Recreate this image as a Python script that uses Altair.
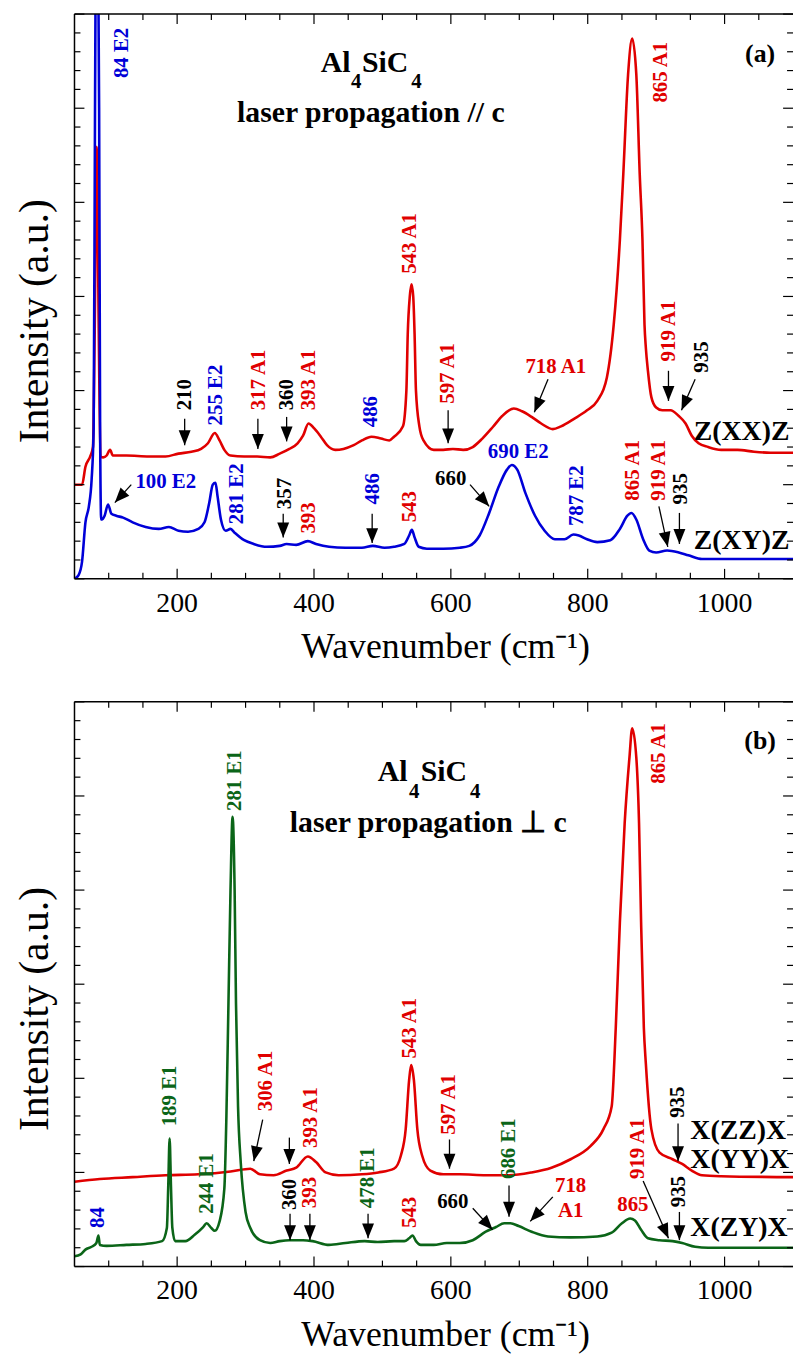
import math
import altair as alt
import pandas as pd

# ------------------------------------------------------------------ data
a_red_wn = [50, 61, 66, 73, 77, 79.5, 82.5, 85.5, 88, 92, 97, 102, 106, 126, 159, 183, 202, 221, 235, 245,
            255, 262, 269, 278, 298, 317, 336, 350, 364, 376, 384, 392, 400, 410, 419, 431, 443, 458, 470,
            484, 498, 510, 517, 530, 535, 537, 540, 542.5, 545, 547, 549, 554, 560, 575, 589, 603, 618,
            632, 646, 661, 675, 692, 704, 718, 732, 749, 761, 780, 799, 814, 828, 838, 847, 852, 859, 865,
            871, 876, 880, 883, 885, 888, 893, 900, 909, 921, 933, 943, 952, 962, 976, 995, 1019, 1043,
            1067, 1100]
a_red_v = [1.00, 1.00, 1.19, 1.30, 1.40, 2.6, 4.59, 2.6, 1.30, 1.29, 1.31, 1.37, 1.31, 1.31, 1.30, 1.30,
           1.33, 1.35, 1.38, 1.44, 1.55, 1.47, 1.37, 1.31, 1.30, 1.30, 1.29, 1.33, 1.38, 1.44, 1.52, 1.65,
           1.60, 1.51, 1.42, 1.37, 1.38, 1.42, 1.47, 1.51, 1.49, 1.47, 1.51, 1.62, 2.0, 2.6, 3.0, 3.13,
           3.0, 2.6, 2.0, 1.62, 1.47, 1.37, 1.37, 1.38, 1.37, 1.40, 1.49, 1.61, 1.73, 1.81, 1.78, 1.72,
           1.65, 1.59, 1.62, 1.70, 1.79, 1.89, 2.14, 2.70, 3.6, 4.30, 5.36, 5.74, 5.36, 4.30, 3.6, 2.70,
           2.45, 2.21, 1.93, 1.82, 1.79, 1.79, 1.73, 1.65, 1.52, 1.44, 1.40, 1.37, 1.37, 1.35, 1.34, 1.34]

a_blue_wn = [50, 56, 61, 66, 71, 75, 78, 80, 83, 86, 87.5, 89, 90, 94, 99, 104, 111, 121, 135, 154, 173,
             188, 202, 216, 231, 240, 247, 252, 256, 259, 264, 271, 278, 284, 298, 312, 331, 350, 360, 374,
             391, 403, 422, 446, 470, 486, 503, 517, 532, 539, 543, 547, 553, 565, 589, 613, 627, 642, 656,
             670, 682, 689, 697, 709, 723, 737, 752, 766, 779, 787, 799, 814, 833, 847, 858, 864, 871, 881,
             890, 900, 916, 933, 947, 967, 995, 1043, 1100]
a_blue_v = [0.0, 0.04, 0.18, 0.60, 0.77, 1.05, 1.6, 5.0, 8.5, 5.0, 1.5, 0.63, 0.63, 0.67, 0.79, 0.69, 0.67,
            0.65, 0.60, 0.55, 0.53, 0.55, 0.51, 0.50, 0.53, 0.60, 0.81, 1.00, 1.02, 0.88, 0.63, 0.51, 0.53,
            0.49, 0.41, 0.37, 0.34, 0.35, 0.37, 0.36, 0.40, 0.37, 0.34, 0.33, 0.33, 0.35, 0.33, 0.34, 0.37,
            0.46, 0.52, 0.44, 0.34, 0.32, 0.32, 0.33, 0.35, 0.46, 0.70, 0.98, 1.16, 1.21, 1.16, 0.91, 0.67,
            0.51, 0.42, 0.42, 0.47, 0.46, 0.42, 0.39, 0.41, 0.53, 0.67, 0.70, 0.63, 0.42, 0.30, 0.28, 0.30,
            0.28, 0.25, 0.21, 0.21, 0.21, 0.21]

b_red_wn = [50, 87, 135, 183, 231, 278, 307, 321, 341, 360, 374, 391, 403, 417, 436, 470, 494, 517, 527,
            534, 539, 542, 546, 551, 558, 570, 589, 613, 651, 685, 718, 747, 775, 804, 823, 835, 841, 847,
            854, 861, 865, 871, 875, 878, 882, 885, 893, 905, 924, 938, 952, 967, 995, 1100]
b_red_v = [0.90, 0.93, 0.95, 0.97, 0.98, 1.01, 1.04, 0.98, 0.97, 1.02, 1.05, 1.17, 1.11, 1.00, 0.97, 0.98,
           1.00, 1.04, 1.18, 1.46, 1.98, 2.14, 1.98, 1.46, 1.18, 1.02, 0.98, 0.98, 0.97, 0.97, 1.00, 1.05,
           1.14, 1.28, 1.46, 1.70, 2.54, 3.66, 4.71, 5.41, 5.72, 5.41, 4.71, 3.66, 2.54, 2.15, 1.46, 1.21,
           1.14, 1.09, 1.02, 0.97, 0.96, 0.95]

b_green_wn = [50, 59, 66, 75, 82, 85, 87, 97, 126, 154, 178, 185, 187, 189, 191, 193, 197, 212, 226, 238,
              243, 250, 255, 262, 269, 272, 275, 278, 281, 284, 286, 289, 293, 300, 307, 321, 336, 350, 364,
              384, 398, 422, 446, 474, 493, 517, 532, 539, 544, 549, 556, 575, 594, 613, 632, 651, 666, 678,
              687, 699, 718, 742, 775, 814, 835, 850, 862, 869, 878, 888, 905, 924, 938, 957, 976, 1019, 1100]
b_green_v = [0.11, 0.13, 0.18, 0.21, 0.25, 0.33, 0.23, 0.22, 0.23, 0.24, 0.27, 0.41, 0.85, 1.36, 0.85, 0.41,
             0.27, 0.27, 0.34, 0.42, 0.46, 0.41, 0.38, 0.48, 0.83, 1.6, 2.8, 4.0, 4.78, 4.0, 2.8, 1.7, 1.1,
             0.58, 0.41, 0.28, 0.25, 0.27, 0.28, 0.28, 0.27, 0.23, 0.25, 0.27, 0.26, 0.27, 0.27, 0.30, 0.33,
             0.27, 0.23, 0.23, 0.25, 0.25, 0.28, 0.37, 0.42, 0.46, 0.46, 0.43, 0.37, 0.32, 0.31, 0.32, 0.36,
             0.46, 0.51, 0.49, 0.39, 0.30, 0.28, 0.27, 0.25, 0.21, 0.20, 0.20, 0.20]

# annotation labels: (text, wavenumber, intensity, colour key, font size, kind)
a_labels = [
    ("84 E2", 119, 5.32, "blue", 21, "v"), ("210", 211, 1.79, "black", 21, "v"),
    ("255 E2", 257, 1.63, "blue", 21, "v"), ("317 A1", 320, 1.79, "red", 21, "v"),
    ("360", 360, 1.79, "black", 21, "v"), ("393 A1", 393, 1.79, "red", 21, "v"),
    ("486", 484, 1.61, "blue", 21, "v"), ("543 A1", 541, 3.24, "red", 21, "v"),
    ("597 A1", 596, 1.86, "red", 21, "v"), ("865 A1", 907, 5.06, "red", 21, "v"),
    ("919 A1", 919, 2.31, "red", 21, "v"), ("935", 967, 2.19, "black", 21, "v"),
    ("281 E2", 288, 0.58, "blue", 21, "v"), ("357", 357, 0.74, "black", 21, "v"),
    ("393", 393, 0.48, "red", 21, "v"), ("486", 486, 0.79, "blue", 21, "v"),
    ("543", 541, 0.60, "red", 21, "v"), ("787 E2", 785, 0.56, "blue", 21, "v"),
    ("865 A1", 866, 0.83, "red", 21, "v"), ("919 A1", 904, 0.83, "red", 21, "v"),
    ("935", 937, 0.79, "black", 21, "v"),
    ("100 E2", 139, 0.97, "blue", 21, "l"), ("718 A1", 709, 2.19, "red", 21, "l"),
    ("690 E2", 654, 1.28, "blue", 21, "l"), ("660", 577, 1.00, "black", 21, "l"),
    ("Z(XX)Z", 955, 1.47, "black", 28, "l"), ("Z(XY)Z", 955, 0.32, "black", 28, "l"),
    ("(a)", 1074, 5.49, "black", 26, "r"),
    ("Al", 410, 5.39, "black", 30, "l"), ("4", 454, 5.22, "black", 21, "l"),
    ("SiC", 470, 5.39, "black", 30, "l"), ("4", 542, 5.22, "black", 21, "l"),
    ("laser propagation // c", 483, 4.85, "black", 30, "c"),
]
b_labels = [
    ("84", 85, 0.41, "blue", 21, "v"), ("189 E1", 190, 1.49, "green", 21, "v"),
    ("244 E1", 243, 0.56, "green", 21, "v"), ("281 E1", 284, 4.84, "green", 21, "v"),
    ("306 A1", 330, 1.65, "red", 21, "v"), ("393 A1", 395, 1.26, "red", 21, "v"),
    ("360", 365, 0.60, "black", 21, "v"), ("393", 394, 0.62, "red", 21, "v"),
    ("478 E1", 479, 0.62, "green", 21, "v"), ("543 A1", 541, 2.21, "red", 21, "v"),
    ("543", 541, 0.41, "red", 21, "v"), ("597 A1", 598, 1.40, "red", 21, "v"),
    ("686 E1", 685, 0.93, "green", 21, "v"), ("865 A1", 904, 5.13, "red", 21, "v"),
    ("919 A1", 874, 0.93, "red", 21, "v"), ("935", 934, 0.63, "black", 21, "v"),
    ("935", 932, 1.58, "black", 21, "v"),
    ("660", 580, 0.62, "black", 21, "l"), ("X(ZZ)X", 950, 1.35, "black", 28, "l"),
    ("X(YY)X", 950, 1.05, "black", 28, "l"), ("X(ZY)X", 950, 0.32, "black", 28, "l"),
    ("718", 775, 0.79, "red", 21, "c"), ("A1", 775, 0.53, "red", 21, "c"),
    ("865", 866, 0.59, "red", 21, "c"),
    ("(b)", 1075, 5.50, "black", 26, "r"),
    ("Al", 493, 5.16, "black", 30, "l"), ("4", 539, 4.98, "black", 21, "l"),
    ("SiC", 556, 5.16, "black", 30, "l"), ("4", 628, 4.98, "black", 21, "l"),
    ("laser propagation \u22a5 c", 567, 4.62, "black", 30, "c"),
]

# arrows: (tail wavenumber, tail intensity, head wavenumber, head intensity)
a_arrows = [
    (211, 1.70, 211, 1.42), (318, 1.70, 318, 1.38), (360, 1.72, 360, 1.46),
    (133, 1.00, 109, 0.81), (355, 0.69, 355, 0.44), (485, 0.69, 485, 0.38),
    (596, 1.79, 596, 1.44), (742, 2.12, 722, 1.77), (918, 2.21, 918, 1.89),
    (957, 2.12, 937, 1.79), (628, 1.00, 656, 0.77), (904, 0.77, 917, 0.34),
    (934, 0.70, 934, 0.37),
]
b_arrows = [
    (325, 1.56, 312, 1.12), (364, 1.37, 364, 1.09), (365, 0.56, 365, 0.28),
    (394, 0.56, 394, 0.28), (479, 0.56, 479, 0.30), (598, 1.35, 598, 1.04),
    (685, 0.86, 685, 0.53), (632, 0.62, 661, 0.39), (749, 0.74, 716, 0.48),
    (881, 0.91, 918, 0.30), (934, 0.58, 934, 0.28), (932, 1.52, 932, 1.12),
]

X_DOMAIN = [50, 1100]
Y_DOMAIN = [0, 6]
X_MAJOR_TICKS = [200, 400, 600, 800, 1000]
X_MINOR_TICKS = [100, 150, 250, 300, 350, 450, 500, 550, 650, 700, 750, 850, 900, 950, 1050]
Y_MAJOR_TICKS = [0, 1, 2, 3, 4, 5, 6]
Y_MINOR_TICKS = [round(i * 0.2, 1) for i in range(31) if i % 5 != 0]
X_TITLE = "Wavenumber (cm\u207b\u00b9)"
Y_TITLE = "Intensity (a.u.)"

# ------------------------------------------------------------------ style
COLORS = {"red": "#e00000", "blue": "#0000d8", "green": "#0b6518", "black": "#000000"}
SERIF = "Liberation Serif"
W, H = 724, 569
PX_X = W / (X_DOMAIN[1] - X_DOMAIN[0])
PX_Y = H / (Y_DOMAIN[1] - Y_DOMAIN[0])
ARROW_SHAPE = "M0,0L-0.4,-1L0.4,-1Z"
MAJOR_LEN, MINOR_LEN = 10, 6

x_scale = alt.Scale(domain=X_DOMAIN, nice=False, zero=False)
y_scale = alt.Scale(domain=Y_DOMAIN, nice=False, zero=False)


def X(field):
    return alt.X(field, scale=x_scale, axis=None)


def Y(field):
    return alt.Y(field, scale=y_scale, axis=None)


def txt(**kw):
    # text drawn with a fill only (no stroke)
    return dict(font=SERIF, strokeWidth=0, **kw)


def frame_layers():
    out = []
    for vals, ln in ((X_MAJOR_TICKS, MAJOR_LEN), (X_MINOR_TICKS, MINOR_LEN)):
        d = pd.DataFrame({"t": vals})
        for y0, y1 in ((H, H - ln), (0, ln)):
            out.append(alt.Chart(d).mark_rule(color="black", strokeWidth=1.2).encode(
                x=X("t:Q"), y=alt.value(y0), y2=alt.value(y1)))
    for vals, ln in ((Y_MAJOR_TICKS, MAJOR_LEN), (Y_MINOR_TICKS, MINOR_LEN)):
        d = pd.DataFrame({"t": vals})
        for x0, x1 in ((0, ln), (W, W - ln)):
            out.append(alt.Chart(d).mark_rule(color="black", strokeWidth=1.2).encode(
                y=Y("t:Q"), x=alt.value(x0), x2=alt.value(x1)))
    one = pd.DataFrame({"t": [0]})
    out.append(alt.Chart(one).mark_rule(color="black", strokeWidth=1.5).encode(
        x=alt.value(0), x2=alt.value(W), y=alt.value(0)))
    out.append(alt.Chart(one).mark_rule(color="black", strokeWidth=1.5).encode(
        x=alt.value(0), x2=alt.value(W), y=alt.value(H)))
    out.append(alt.Chart(one).mark_rule(color="black", strokeWidth=1.5).encode(
        x=alt.value(0), y=alt.value(0), y2=alt.value(H)))
    out.append(alt.Chart(pd.DataFrame({"t": X_MAJOR_TICKS})).mark_text(
        **txt(fontSize=28, align="center", baseline="top")).encode(
        x=X("t:Q"), y=alt.value(H + 11), text=alt.Text("t:Q", format="d")))
    out.append(alt.Chart(pd.DataFrame({"t": [X_TITLE]})).mark_text(
        **txt(fontSize=36, align="center", baseline="alphabetic")).encode(
        x=alt.value(374), y=alt.value(H + 80), text="t:N"))
    out.append(alt.Chart(pd.DataFrame({"t": [Y_TITLE]})).mark_text(
        **txt(fontSize=42, align="center", baseline="alphabetic", angle=270)).encode(
        x=alt.value(-27), y=alt.value(H / 2 + 25), text="t:N"))
    return out


def text_layers(labels):
    out = []
    groups = {}
    for lab in labels:
        groups.setdefault((lab[5], lab[4], lab[3]), []).append(lab)
    for (kind, fs, ckey), rows in groups.items():
        d = pd.DataFrame([{"label": r[0], "wn": r[1], "v": r[2]} for r in rows])
        extra = {} if ckey == "black" else {"fill": COLORS[ckey]}
        if kind == "v":
            mk = alt.Chart(d).mark_text(**txt(angle=270, align="left", baseline="middle",
                                              fontWeight="bold", fontSize=fs, clip=True, **extra))
        else:
            al = {"l": "left", "c": "center", "r": "right"}[kind]
            mk = alt.Chart(d).mark_text(**txt(align=al, baseline="alphabetic", fontWeight="bold",
                                              fontSize=fs, clip=True, **extra))
        out.append(mk.encode(x=X("wn:Q"), y=Y("v:Q"), text="label:N"))
    return out


def panel(curves, labels, arrows):
    out = []
    for name, wn, v, col in curves:
        d = pd.DataFrame({"wn": wn, "v": v})
        out.append(alt.Chart(d).mark_line(clip=True, strokeWidth=2.6, interpolate="monotone",
                                          color=COLORS[col]).encode(x=X("wn:Q"), y=Y("v:Q")))

    adf = pd.DataFrame(arrows, columns=["x0", "y0", "x1", "y1"])
    adf["ang"] = [
        math.degrees(math.atan2(-(r.x1 - r.x0) * PX_X, -(r.y1 - r.y0) * PX_Y)) % 360
        for r in adf.itertuples()
    ]
    out.append(alt.Chart(adf).mark_rule(color="black", strokeWidth=1.3).encode(
        x=X("x0:Q"), y=Y("y0:Q"), x2="x1:Q", y2="y1:Q"))
    out.append(alt.Chart(adf).mark_point(shape=ARROW_SHAPE, filled=True, color="black", opacity=1,
                                         size=900, strokeWidth=0).encode(
        x=X("x1:Q"), y=Y("y1:Q"), angle=alt.Angle("ang:Q", scale=None)))

    ch = alt.layer(*out, *frame_layers(), *text_layers(labels)).resolve_scale(x="shared", y="shared")
    return ch.properties(width=W, height=H)


panel_a = panel([("ZXXZ", a_red_wn, a_red_v, "red"), ("ZXYZ", a_blue_wn, a_blue_v, "blue")],
                a_labels, a_arrows)
panel_b = panel([("XZZX", b_red_wn, b_red_v, "red"), ("XZYX", b_green_wn, b_green_v, "green")],
                b_labels, b_arrows)

chart = alt.vconcat(panel_a, panel_b, spacing=36).properties(
    padding={"left": 6, "top": 0, "right": 0, "bottom": 0}, background="white"
).configure_view(stroke=None)

chart.save("out.html", embed_options={"renderer": "svg", "actions": False})
